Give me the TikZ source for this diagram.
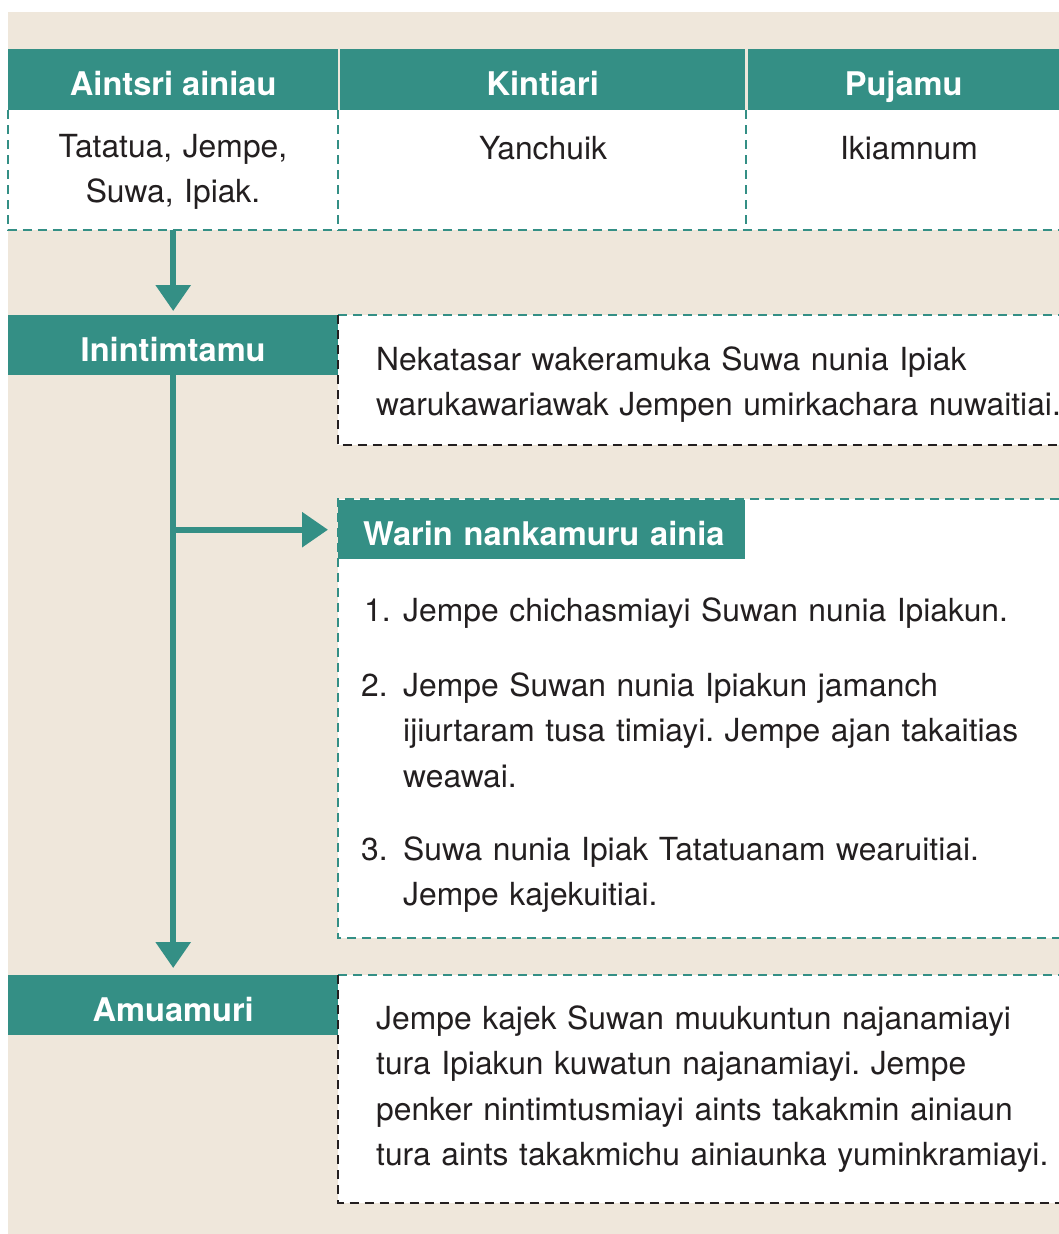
\documentclass[tikz,border=0pt]{standalone}
\usepackage{fontspec}
\setmainfont{TeX Gyre Heros}
\usetikzlibrary{arrows.meta}
\frenchspacing
\definecolor{sarcelle}{HTML}{348F85}
\definecolor{sable}{HTML}{EFE7DB}
\definecolor{encre}{HTML}{231F20}
\tikzset{
	bandeau/.style={fill=sarcelle, text=white, font=\fontsize{32.6}{36}\selectfont\bfseries, inner sep=0pt, text height=32pt, text depth=0pt, anchor=north west},
	cellule/.style={fill=white, inner sep=0pt, anchor=north west},
	texte/.style={text=encre, font=\fontsize{31.8}{45.5}\selectfont, inner sep=0pt, align=left, text width=#1, anchor=base west},
	numero/.style={text=encre, font=\fontsize{31.8}{45.5}\selectfont, inner sep=0pt, anchor=base west},
	tiret/.style={draw=sarcelle, line width=2pt, dash pattern=on 9pt off 6pt},
	tiretnoir/.style={draw=encre, line width=2pt, dash pattern=on 9pt off 6pt},
	fleche/.style={draw=sarcelle, line width=6pt, -{Triangle[width=34pt,length=26pt]}}
}
\begin{document}
\begin{tikzpicture}[x=1pt,y=-1pt]
	\useasboundingbox (0,0) rectangle (1059,1234) ;
	%Fond
	\fill [sable] (8,12) rectangle (1059,1234) ;
	%Entete
	\node [bandeau, minimum width=330pt, minimum height=61pt]	(hA)	at (8,49)		{Aintsri ainiau}	;
	\node [bandeau, minimum width=405pt, minimum height=61pt]	(hB)	at (340,49)	{Kintiari}		;
	\node [bandeau, minimum width=311pt, minimum height=61pt]	(hC)	at (748,49)	{Pujamu}			;
	%Cellules
	\node [cellule, minimum width=330pt, minimum height=120pt]	(cA)	at (8,110)		{}	;
	\node [cellule, minimum width=408pt, minimum height=120pt]	(cB)	at (338,110)	{}	;
	\node [cellule, minimum width=313pt, minimum height=120pt]	(cC)	at (746,110)	{}	;
	\draw [tiret]	(cA.north west) -- (cA.south west) -- (cC.south east)	;
	\draw [tiret]	(cB.north west) -- (cB.south west)	;
	\draw [tiret]	(cC.north west) -- (cC.south west)	;
	\node [texte=300pt, align=center, anchor=base]	(tA)	at (173,157)	{Tatatua, Jempe,\\Suwa, Ipiak.}	;
	\node [texte=300pt, align=center, anchor=base]	(tB)	at (543,159)	{Yanchuik}	;
	\node [texte=300pt, align=center, anchor=base]	(tC)	at (909,159)	{Ikiamnum}	;
	%Inintimtamu
	\node [bandeau, minimum width=330pt, minimum height=60pt]	(nI)	at (8,315)		{Inintimtamu}	;
	\node [cellule, minimum width=721pt, minimum height=130pt]	(b1)	at (338,315)	{}	;
	\draw [tiret]		(b1.north west) -- (b1.north east)	;
	\draw [tiretnoir]	(b1.north west) -- (b1.south west) -- (b1.south east)	;
	\node [texte=690pt]	(t1)	at (376,370)	{Nekatasar wakeramuka Suwa nunia Ipiak\\warukawariawak Jempen umirkachara nuwaitiai.}	;
	%Warin
	\node [cellule, minimum width=721pt, minimum height=439pt]	(b2)	at (338,499)	{}	;
	\draw [tiret]	(b2.north east) -- (b2.north west) -- (b2.south west) -- (b2.south east)	;
	\node [bandeau, minimum height=59pt, text width=407pt, align=left]	(wT)	at (338,500)	{\hspace*{25pt}Warin nankamuru ainia}	;
	\node [numero]		(n1)	at (364,621)	{1.}	;
	\node [texte=650pt]	(l1)	at (403,621)	{Jempe chichasmiayi Suwan nunia Ipiakun.}	;
	\node [numero]		(n2)	at (361,696)	{2.}	;
	\node [texte=650pt]	(l2)	at (403,696)	{Jempe Suwan nunia Ipiakun jamanch\\ijiurtaram tusa timiayi. Jempe ajan takaitias\\weawai.}	;
	\node [numero]		(n3)	at (361,860)	{3.}	;
	\node [texte=650pt]	(l3)	at (403,860)	{Suwa nunia Ipiak Tatatuanam wearuitiai.\\Jempe kajekuitiai.}	;
	%Amuamuri
	\node [bandeau, minimum width=330pt, minimum height=60pt]	(nA)	at (8,975)		{Amuamuri}	;
	\node [cellule, minimum width=721pt, minimum height=228pt]	(b3)	at (338,975)	{}	;
	\draw [tiret]		(b3.north west) -- (b3.north east)	;
	\draw [tiretnoir]	(b3.north west) -- (b3.south west) -- (b3.south east)	;
	\node [texte=690pt]	(t3)	at (376,1029)	{Jempe kajek Suwan muukuntun najanamiayi\\tura Ipiakun kuwatun najanamiayi. Jempe\\penker nintimtusmiayi aints takakmin ainiaun\\tura aints takakmichu ainiaunka yuminkramiayi.}	;
	%Fleches
	\draw [fleche, shorten >=4pt]	(cA.south) -- (nI.north)	;
	\draw [fleche, shorten >=7pt]	(nI.south) -- (nA.north)	;
	\draw [fleche, shorten >=10pt]	(nI.south |- wT.west) -- (wT.west)	;
\end{tikzpicture}
\end{document}
